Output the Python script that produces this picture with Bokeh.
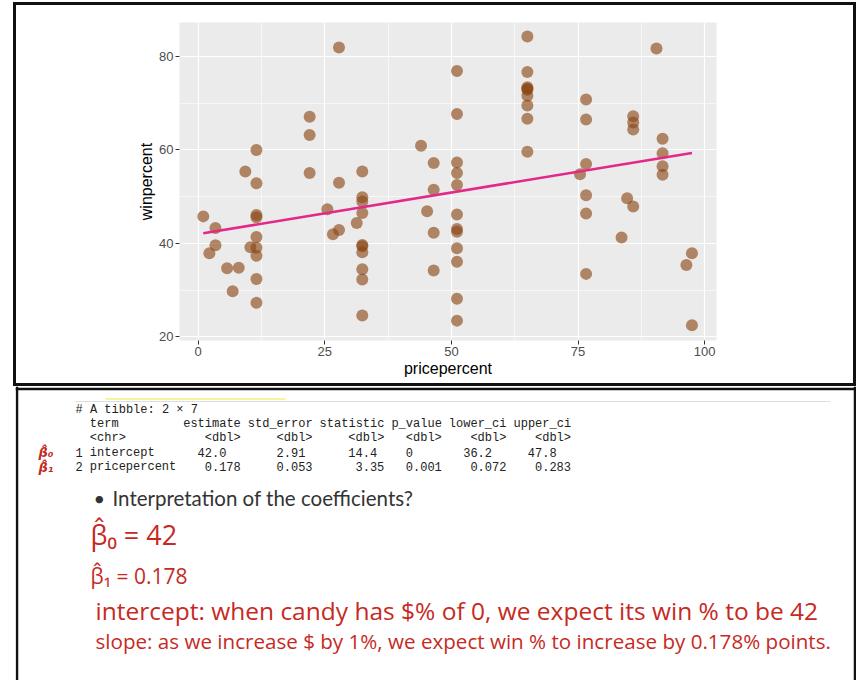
from bokeh.plotting import figure
from bokeh.models import Range1d, FixedTicker
from bokeh.layouts import column
from bokeh.embed import file_html
from bokeh.resources import INLINE
from bokeh.core.properties import value

# ---------------- scatter data ----------------
pricepercent = [1.0, 2.2, 3.4, 3.4, 5.7, 6.8, 8.0, 9.3, 10.3,
                11.5, 11.5, 11.5, 11.5, 11.5, 11.5, 11.5, 11.5, 11.5,
                22.0, 22.0, 22.0, 25.5, 26.6, 27.8, 27.8, 27.8, 31.3,
                32.4, 32.4, 32.4, 32.4, 32.4, 32.4, 32.4, 32.4, 32.4, 32.4,
                44.0, 45.2, 46.5, 46.5, 46.5, 46.5,
                51.1, 51.1, 51.1, 51.1, 51.1, 51.1, 51.1, 51.1, 51.1, 51.1, 51.1, 51.1,
                65.0, 65.0, 65.0, 65.0, 65.0, 65.0, 65.0, 65.0, 65.0,
                75.4, 76.6, 76.6, 76.6, 76.6, 76.6, 76.6,
                83.6, 84.7, 85.9, 85.9, 85.9, 85.9,
                90.5, 91.7, 91.7, 91.7, 91.7,
                96.4, 97.5, 97.5]
winpercent = [45.8, 37.9, 43.3, 39.6, 34.7, 29.8, 34.8, 55.4, 39.2,
              60.0, 52.9, 46.1, 45.6, 41.4, 39.1, 37.4, 32.4, 27.3,
              67.1, 63.2, 55.1, 47.3, 42.0, 81.9, 53.0, 42.9, 44.4,
              55.4, 49.9, 49.0, 46.5, 39.7, 39.4, 38.1, 34.5, 32.3, 24.6,
              60.9, 46.9, 57.2, 51.5, 42.3, 34.2,
              76.9, 67.7, 57.3, 55.1, 52.5, 46.2, 43.1, 42.5, 39.0, 36.1, 28.2, 23.5,
              84.3, 76.7, 73.4, 73.1, 72.9, 71.6, 69.5, 66.7, 59.6,
              54.8, 70.8, 66.5, 57.0, 50.3, 46.4, 33.5,
              41.3, 49.7, 67.2, 65.9, 64.4, 47.9,
              81.7, 62.4, 59.3, 56.5, 54.7,
              35.4, 37.9, 22.5]

x_ticks = [0, 25, 50, 75, 100]
x_minor = [12.5, 37.5, 62.5, 87.5]
y_ticks = [20, 40, 60, 80]
y_minor = [30, 50, 70]

# ---------------- regression table ----------------
tibble_title = "# A tibble: 2 \u00d7 7"
terms = ["intercept", "pricepercent"]
col_names = ["estimate", "std_error", "statistic", "p_value", "lower_ci", "upper_ci"]
estimate = ["42.0", "0.178"]
std_error = ["2.91", "0.053"]
statistic = ["14.4", "3.35"]
p_value = ["0", "0.001"]
lower_ci = ["36.2", "0.072"]
upper_ci = ["47.8", "0.283"]
intercept_hat = 42.0
slope_hat = 0.178

bullet_text = "Interpretation of the coefficients?"
margin_marks = ["\u03b2\u0302\u2080", "\u03b2\u0302\u2081"]
notes = ["\u03b2\u0302\u2080 = 42",
         "\u03b2\u0302\u2081 = 0.178",
         "intercept: when candy has $% of 0, we expect its win % to be 42",
         "slope: as we increase $ by 1%, we expect win % to increase by 0.178% points."]

# ---------------- top: scatter plot ----------------
W1 = 837
H1 = 378
p1 = figure(width=W1, height=H1, x_range=Range1d(-3.7, 102.35), y_range=Range1d(19.25, 87.27),
            output_backend="svg", toolbar_location=None,
            min_border_left=163, min_border_right=137, min_border_top=17, min_border_bottom=43)
p1.background_fill_color = "#EBEBEB"
p1.border_fill_color = "white"
p1.outline_line_color = None

xt = FixedTicker(ticks=x_ticks, minor_ticks=x_minor)
yt = FixedTicker(ticks=y_ticks, minor_ticks=y_minor)
p1.xaxis.ticker = xt
p1.yaxis.ticker = yt
p1.xgrid.ticker = xt
p1.ygrid.ticker = yt
for g in (p1.xgrid, p1.ygrid):
    g.grid_line_color = "white"
    g.grid_line_width = 1.2
    g.minor_grid_line_color = "white"
    g.minor_grid_line_width = 0.6

p1.xaxis.axis_label = "pricepercent"
p1.yaxis.axis_label = "winpercent"
for ax in (p1.xaxis, p1.yaxis):
    ax.axis_line_color = None
    ax.major_tick_line_color = "#333333"
    ax.major_tick_out = 4
    ax.major_tick_in = 0
    ax.minor_tick_line_color = None
    ax.major_label_text_color = "#4D4D4D"
    ax.major_label_text_font = "Liberation Sans"
    ax.major_label_text_font_size = "13px"
    ax.major_label_standoff = 2
    ax.axis_label_text_font = "Liberation Sans"
    ax.axis_label_text_font_size = "16px"
    ax.axis_label_text_font_style = "normal"
    ax.axis_label_text_color = "black"
    ax.axis_label_standoff = 1

p1.scatter(pricepercent, winpercent, size=12, fill_color="#8B4513", fill_alpha=0.62, line_color=None)
lx = [min(pricepercent), max(pricepercent)]
ly = [intercept_hat + slope_hat * v for v in lx]
p1.line(lx, ly, line_color="#E3288A", line_width=2.6)

top = column(p1, styles={"border": "3px solid #111111", "margin-left": "13px", "margin-top": "2px"})

# ---------------- bottom: regression output + notes ----------------
W2 = 841
H2 = 294
p2 = figure(width=W2, height=H2, x_range=Range1d(0, W2), y_range=Range1d(H2, 0),
            output_backend="svg", toolbar_location=None,
            x_axis_location=None, y_axis_location=None, min_border=0)
p2.styles = {"margin-left": "15px"}
p2.grid.visible = False
p2.outline_line_color = None
p2.background_fill_color = "white"
p2.border_fill_color = "white"

# frame lines (left, right, top)
p2.segment(x0=[1.5, W2 - 1.5, 0], y0=[0, 0, 2.5], x1=[1.5, W2 - 1.5, W2], y1=[H2, H2, 2.5],
           line_color="#111111", line_width=2.5)
# faint separator and highlight
p2.segment(x0=[60], y0=[15], x1=[815], y1=[15], line_color="#dddddd", line_width=1)
p2.segment(x0=[90], y0=[12.5], x1=[270], y1=[12.5], line_color="#f4f27a", line_width=1.5)

cw = 7.18
x0 = 60
line_y = [23, 37, 51, 66, 80]
tx, ty, tt = [], [], []


def put(col, line, s):
    tx.append(x0 + col * cw)
    ty.append(line_y[line])
    tt.append(s)


put(0, 0, tibble_title)
term_w = max([len("term"), len("<chr>")] + [len(t) for t in terms])
put(2, 1, "term")
put(2, 2, "<chr>")
for i, t in enumerate(terms):
    put(0, 3 + i, str(i + 1))
    put(2, 3 + i, t)
cur = 2 + term_w
for name, vals in zip(col_names, [estimate, std_error, statistic, p_value, lower_ci, upper_ci]):
    cur += 1
    lefts = [s.index('.') if '.' in s else len(s) for s in vals]
    rights = [len(s) - l for s, l in zip(vals, lefts)]
    L = max(lefts)
    R = max(rights)
    Wd = L + R
    width = max(len(name), Wd, 5)
    end = cur + width
    put(end - len(name), 1, name)
    put(end - 5, 2, "<dbl>")
    for i, (s, l) in enumerate(zip(vals, lefts)):
        put(end - Wd + (L - l), 3 + i, s)
    cur = end

p2.text(x=tx, y=ty, text=tt, text_font=value("Liberation Mono"), text_font_size="12px",
        text_baseline="middle", text_align="left", text_color="#222222")

# red margin marks next to the rows
p2.text(x=[23, 23], y=[66, 81], text=margin_marks, text_font=value("DejaVu Sans"),
        text_font_size="13px", text_font_style="bold italic", text_baseline="middle",
        text_color="#c62a1f")

# bullet line
p2.text(x=[78], y=[111], text=["\u2022"], text_font=value("Lato"), text_font_size="20px",
        text_baseline="middle", text_color="#333333")
p2.text(x=[97], y=[111], text=[bullet_text], text_font=value("Lato"), text_font_size="20.5px",
        text_baseline="middle", text_color="#333333")

# handwritten notes
p2.text(x=[75, 75, 80, 80], y=[148, 189, 224, 254], text=notes, text_font=value("Open Sans"),
        text_font_size=["27px", "21px", "24.5px", "20.6px"], text_baseline="middle",
        text_color="#c62a1f")

open("out.html", "w").write(file_html([top, p2], INLINE))
